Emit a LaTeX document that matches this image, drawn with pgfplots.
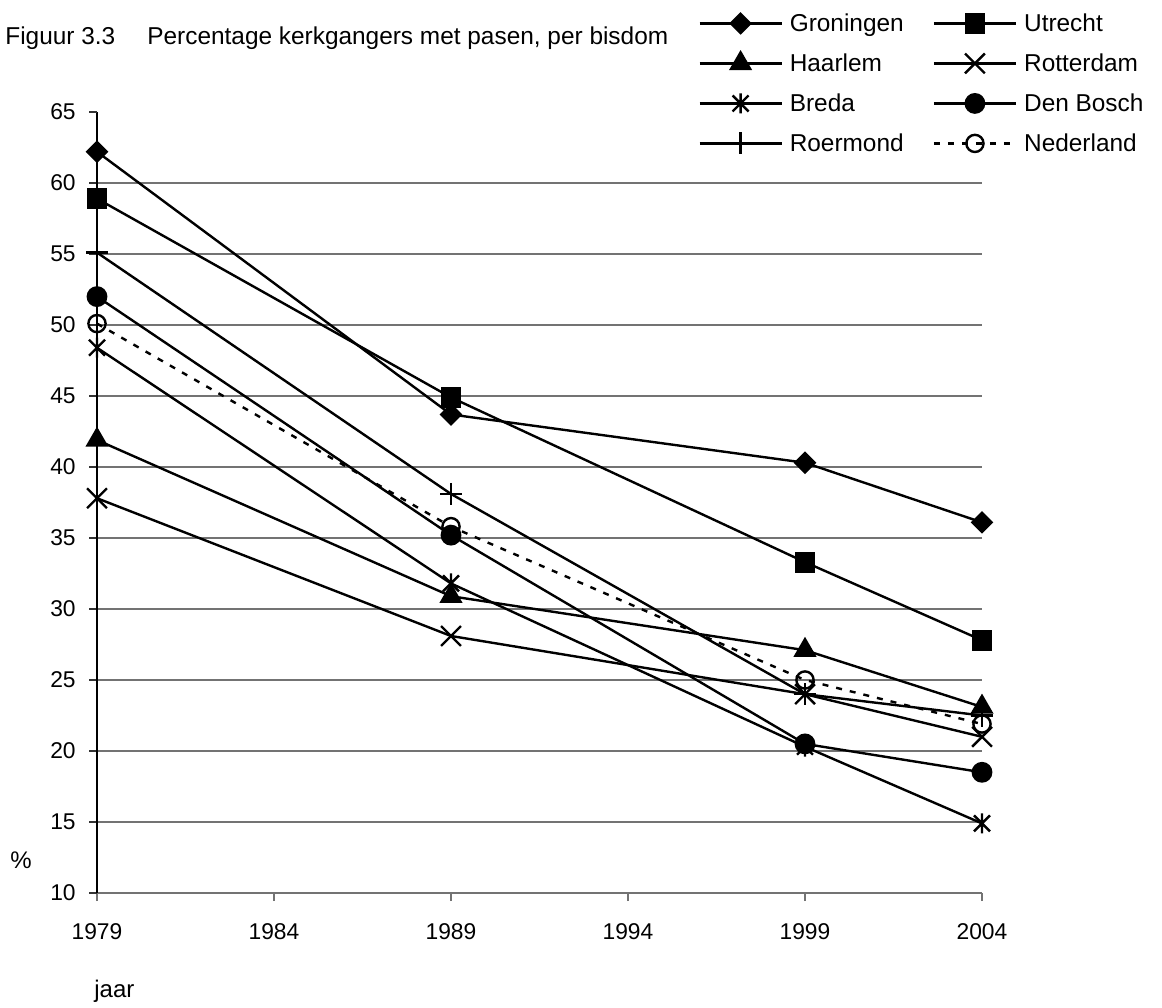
\documentclass[border=0pt]{standalone}
\usepackage{fontspec}
\setmainfont{Liberation Sans}
\usepackage{pgfplots}
\pgfplotsset{compat=1.18}
\definecolor{gridgray}{gray}{0.45}
\pgfdeclareplotmark{bigast}{%
  \pgfpathmoveto{\pgfqpoint{0pt}{\pgfplotmarksize}}%
  \pgfpathlineto{\pgfqpoint{0pt}{-\pgfplotmarksize}}%
  \pgfpathmoveto{\pgfqpoint{-.8\pgfplotmarksize}{-.8\pgfplotmarksize}}%
  \pgfpathlineto{\pgfqpoint{.8\pgfplotmarksize}{.8\pgfplotmarksize}}%
  \pgfpathmoveto{\pgfqpoint{-.8\pgfplotmarksize}{.8\pgfplotmarksize}}%
  \pgfpathlineto{\pgfqpoint{.8\pgfplotmarksize}{-.8\pgfplotmarksize}}%
  \pgfusepathqstroke}
\begin{document}
\fontsize{12}{14}\selectfont
\begin{tikzpicture}
\useasboundingbox (-48.5pt,-57pt) rectangle (532.5pt,446.5pt);
\begin{axis}[
  at={(0pt,0pt)}, anchor=south west,
  scale only axis, width=442.5pt, height=390.5pt,
  xmin=1979, xmax=2004, ymin=10, ymax=65,
  axis x line*=bottom, axis y line*=left,
  x axis line style={gridgray, line width=0.6pt, -},
  y axis line style={black, line width=0.6pt, -},
  xtick={1979,1984,...,2004},
  ytick={10,15,...,60},
  extra y ticks={65}, extra y tick style={grid=none},
  ymajorgrids, grid style={gridgray, line width=0.6pt},
  tick align=outside, major tick length=4pt,
  xtick style={gridgray, line width=0.6pt},
  ytick style={black!80, line width=0.6pt},
  /pgf/number format/1000 sep={},
  /pgf/number format/assume math mode=true,
  font=\fontsize{12}{14}\selectfont,
  tick label style={font=\fontsize{11.4}{13}\selectfont},
  xticklabel style={yshift=-7pt},
  yticklabel style={xshift=-2.5pt},
  clip=false,
  every axis plot/.append style={line width=1.2pt, black},
  legend columns=2,
  legend cell align=left,
  legend style={draw=none, fill=none, inner sep=0pt,
    at={(axis description cs:0.6791,1.1293)}, anchor=north west,
    row sep=8pt, column sep=3.5pt,
    nodes={inner xsep=0pt, inner ysep=0pt, text height=10pt, text depth=2pt},
    /tikz/column 2/.style={column sep=14.5pt},
    font=\fontsize{12.2}{14}\selectfont},
  legend image code/.code={\draw[mark repeat=2,mark phase=2] plot coordinates {(0pt,0pt) (20.5pt,0pt) (41pt,0pt)};},
]
\addplot[mark=square*, mark size=3.4pt, mark options={rotate=45, solid, fill=black}] coordinates {(1979,62.2) (1989,43.7) (1999,40.3) (2004,36.1)};
\addlegendentry{Groningen}
\addplot[mark=square*, mark size=4.6pt, mark options={solid, fill=black}] coordinates {(1979,58.9) (1989,44.9) (1999,33.3) (2004,27.8)};
\addlegendentry{Utrecht}
\addplot[mark=triangle*, mark size=5.5pt, mark options={solid, fill=black}] coordinates {(1979,41.9) (1989,30.9) (1999,27.1) (2004,23.1)};
\addlegendentry{Haarlem}
\addplot[mark=x, mark size=7pt, mark options={solid}] coordinates {(1979,37.8) (1989,28.1) (1999,24.0) (2004,21.0)};
\addlegendentry{Rotterdam}
\addplot[mark=bigast, mark size=5pt, mark options={solid}] coordinates {(1979,48.4) (1989,31.8) (1999,20.3) (2004,14.9)};
\addlegendentry{Breda}
\addplot[mark=*, mark size=4.6pt, mark options={solid, fill=black}] coordinates {(1979,52.0) (1989,35.2) (1999,20.5) (2004,18.5)};
\addlegendentry{Den Bosch}
\addplot[mark=+, mark size=5.5pt, mark options={solid}] coordinates {(1979,55.1) (1989,38.1) (1999,24.0) (2004,22.5)};
\addlegendentry{Roermond}
\addplot[dash pattern=on 3pt off 4pt, mark=o, mark size=4.3pt, mark options={solid, fill=white}] coordinates {(1979,50.1) (1989,35.8) (1999,25.0) (2004,21.9)};
\addlegendentry{Nederland}
\end{axis}
\node[anchor=base west, inner sep=0pt, font=\fontsize{12.2}{14}\selectfont] at (-46pt,424pt) {Figuur 3.3};
\node[anchor=base west, inner sep=0pt, font=\fontsize{12.2}{14}\selectfont] at (25pt,424pt) {Percentage kerkgangers met pasen, per bisdom};
\node[anchor=center, inner sep=0pt] at (-38pt,16.5pt) {\%};
\node[anchor=base west, inner sep=0pt] at (-1.5pt,-52pt) {jaar};
\end{tikzpicture}
\end{document}
